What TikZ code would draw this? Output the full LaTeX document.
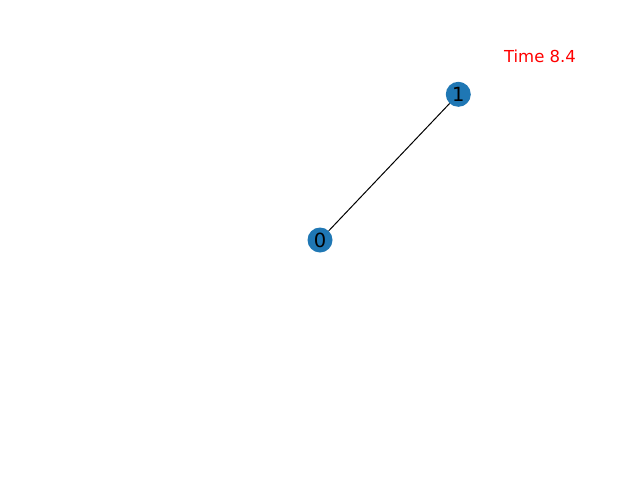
\documentclass[tikz,border=0pt]{standalone}
\usepackage{fontspec}
\setmainfont{DejaVu Sans}
\definecolor{nxblue}{HTML}{1F77B4}
\begin{document}
\begin{tikzpicture}[x=1pt,y=-1pt,
  gnode/.style={circle,fill=nxblue,minimum size=25pt,inner sep=0pt,font=\fontsize{19.5}{22}\selectfont},
  edge/.style={draw=black,line width=1pt}]
\useasboundingbox (0,0) rectangle (640,480);
\node[gnode] (n0) at (320,240) {0};
\node[gnode] (n1) at (458.3,94.3) {1};
\draw[edge] (n0) -- (n1);
\node[text=red,font=\fontsize{16.5}{19}\selectfont,inner sep=0pt] (t) at (540,56) {Time 8.4};
\end{tikzpicture}
\end{document}
